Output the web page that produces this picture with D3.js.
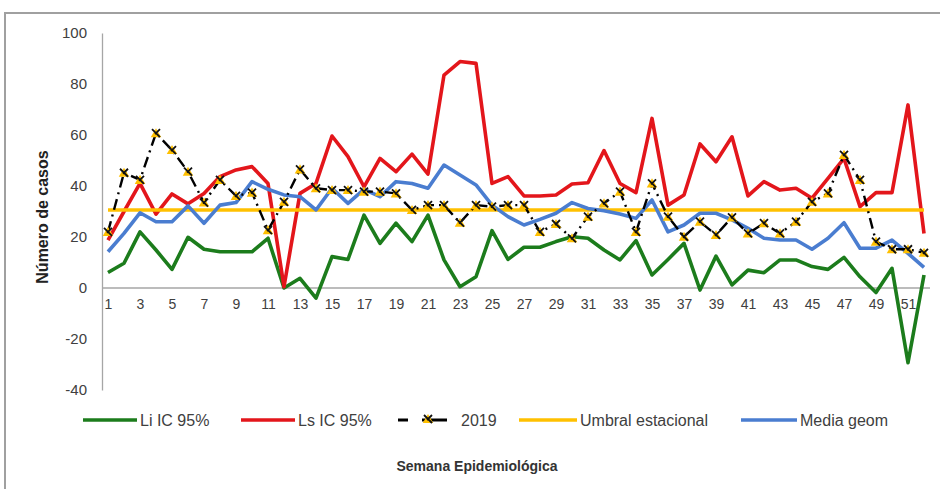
<!DOCTYPE html>
<html>
<head>
<meta charset="utf-8">
<script src="https://cdnjs.cloudflare.com/ajax/libs/d3/7.8.5/d3.min.js"></script>
<style>
  html, body { margin: 0; padding: 0; background: #fff; }
  svg { display: block; font-family: "Liberation Sans", Arial, sans-serif; }
</style>
</head>
<body>
<svg id="chart" width="940" height="489"></svg>
<script>
// Epidemiological weeks 1..52
const weeks = d3.range(1, 53);

// Lower limit of the 95% confidence interval
const liIC = [6.1, 9.7, 22, 14.9, 7.3, 19.9, 15.2, 14.2, 14.2, 14.2, 19.5, 0, 3.8,
  -4, 12.3, 11.2, 28.6, 17.5, 25.4, 18.2, 28.6, 11, 0.5, 4.4, 22.5, 11.2,
  16, 16, 18.2, 20.1, 19.5, 14.9, 11, 18.6, 5.1, 11.2, 17.5, -0.8,
  12.5, 1.2, 7, 6, 11, 11, 8.4, 7.3, 12, 4.4, -1.8, 7.7, -29.3, 5.1];

// Upper limit of the 95% confidence interval
const lsIC = [18.8, 30, 41, 29, 36.9, 33, 37.1, 43.7, 46.3, 47.6, 41, 0.5, 37.1,
  41, 59.6, 51.5, 39.7, 50.8, 45.6, 52.5, 44.7, 83.5, 88.8, 88.1, 41, 43.7,
  36.1, 36.1, 36.5, 40.8, 41.3, 53.9, 41, 37.4, 66.5, 32.5, 36.5, 56.5,
  49.5, 59.3, 36.1, 41.7, 38.4, 39.1, 35.2, 43, 50.8, 31.9, 37.4, 37.4, 71.8, 21.4];

// Cases observed in 2019
const cases2019 = [22, 45.2, 42.4, 60.7, 54.1, 45.6, 33.5, 42.4, 36.1, 37.4, 22.7, 33.8, 46.5,
  39.1, 38.4, 38.4, 37.8, 37.8, 37.1, 30.6, 32.5, 32.5, 25.6, 32.5, 31.9, 32.5,
  32.5, 22, 25.1, 19.5, 28, 33.2, 37.8, 22, 41, 28, 20.1, 26,
  20.8, 27.7, 21.4, 25.4, 21.4, 26, 33.8, 37.1, 52.2, 42.4, 18.2, 15.2, 15.2, 13.8];

// Seasonal threshold (constant)
const umbral = 30.6;

// Geometric mean
const mediaGeom = [14.2, 21.4, 29.5, 26, 26, 32.2, 25.4, 32.5, 33.5, 41.7, 38.7, 36.5, 35.8,
  30.6, 39.1, 33.2, 38.7, 35.8, 41.7, 41, 39.1, 48.2, 44.3, 40.4,
  32.5, 28, 24.7, 26.9, 29.3, 33.5, 31.2, 30.3, 29,
  27.3, 34.5, 22, 24.7, 29.3, 29.3, 26.7,
  23.4, 19.5, 18.8, 18.8, 15.2, 19.5, 25.6, 15.6, 15.6, 18.8, 13.6, 8.1];

const yTicks = [-40, -20, 0, 20, 40, 60, 80, 100];
const xTickWeeks = weeks.filter(w => w % 2 === 1);

const legendItems = [
  { label: "Li IC 95%", color: "#1c7c1c", type: "line" },
  { label: "Ls IC 95%", color: "#e3161b", type: "line" },
  { label: "2019", color: "#000", type: "dash" },
  { label: "Umbral estacional", color: "#ffc000", type: "line" },
  { label: "Media geom", color: "#4a7dd0", type: "line" }
];

const svg = d3.select("#chart");

// outer frame
svg.append("rect")
  .attr("x", 5).attr("y", 13).attr("width", 960).attr("height", 500)
  .attr("fill", "none").attr("stroke", "#a0a0a0").attr("stroke-width", 2);

const x = d3.scaleLinear().domain([1, 52]).range([108, 924]);
const y = d3.scaleLinear().domain([-40, 100]).range([390, 33]);

const plainInt = d => String(d); // hyphen-minus for negatives

// y axis: line and labels only
const yAxis = svg.append("g")
  .attr("transform", "translate(102,0)")
  .call(d3.axisLeft(y).tickValues(yTicks).tickSize(0).tickPadding(15).tickFormat(plainInt));
yAxis.select(".domain").attr("stroke", "#a6a6a6").attr("stroke-width", 1.3);
yAxis.selectAll("text").attr("fill", "#404040").style("font-size", "15px");

// x axis drawn at zero
const xAxis = svg.append("g")
  .attr("transform", `translate(0,${y(0)})`)
  .call(d3.axisBottom(x).tickValues(xTickWeeks).tickSize(0).tickPadding(11).tickFormat(plainInt));
xAxis.select(".domain").attr("stroke", "#a6a6a6").attr("stroke-width", 1.3)
  .attr("d", `M102,0H930`);
xAxis.selectAll("text").attr("fill", "#404040").style("font-size", "14px");

// axis titles
svg.append("text")
  .attr("transform", "translate(48,217) rotate(-90)")
  .attr("text-anchor", "middle")
  .attr("fill", "#222")
  .style("font-size", "16px").style("font-weight", "bold")
  .text("Número de casos");

svg.append("text")
  .attr("x", 477).attr("y", 471)
  .attr("text-anchor", "middle")
  .attr("fill", "#333")
  .style("font-size", "14px").style("font-weight", "bold")
  .text("Semana Epidemiológica");

const line = d3.line().x((d, i) => x(weeks[i])).y(d => y(d));

const plot = svg.append("g").attr("fill", "none").attr("stroke-linejoin", "round");

plot.append("path").datum(liIC).attr("d", line)
  .attr("stroke", legendItems[0].color).attr("stroke-width", 3.6);
plot.append("path").datum(lsIC).attr("d", line)
  .attr("stroke", legendItems[1].color).attr("stroke-width", 3.6);

// threshold line
plot.append("path").datum(weeks.map(() => umbral)).attr("d", line)
  .attr("stroke", legendItems[3].color).attr("stroke-width", 3.6);

plot.append("path").datum(mediaGeom).attr("d", line)
  .attr("stroke", legendItems[4].color).attr("stroke-width", 3.6);

// 2019 series: dash-dot line with markers
plot.append("path").datum(cases2019).attr("d", line)
  .attr("stroke", "#000").attr("stroke-width", 2.4)
  .attr("stroke-dasharray", "11,5,2,5");

const tri = d3.symbol().type(d3.symbolTriangle).size(48);
function marker(g, cx, cy) {
  const m = g.append("g").attr("transform", `translate(${cx},${cy})`);
  m.append("path").attr("d", tri()).attr("fill", "#ffc000").attr("transform", "translate(0,1)");
  m.append("path").attr("d", "M-4,-4L4,4M4,-4L-1,1")
    .attr("stroke", "#111").attr("stroke-width", 1.8).attr("fill", "none");
}
const markers = svg.append("g");
cases2019.forEach((v, i) => marker(markers, x(weeks[i]), y(v)));

// legend
const legY = 420;
const legPos = [
  { x0: 83, x1: 137, tx: 140 },
  { x0: 241, x1: 295, tx: 298 },
  { x0: 398, x1: 447, tx: 461 },
  { x0: 519, x1: 577, tx: 580 },
  { x0: 741, x1: 797, tx: 800 }
];
const leg = svg.append("g");
legendItems.forEach((it, i) => {
  const p = legPos[i];
  if (it.type === "line") {
    leg.append("line").attr("x1", p.x0).attr("x2", p.x1).attr("y1", legY).attr("y2", legY)
      .attr("stroke", it.color).attr("stroke-width", 3.6);
  } else {
    leg.append("line").attr("x1", p.x0).attr("x2", p.x0 + 10).attr("y1", legY).attr("y2", legY)
      .attr("stroke", "#000").attr("stroke-width", 3);
    leg.append("line").attr("x1", p.x0 + 24).attr("x2", p.x1).attr("y1", legY).attr("y2", legY)
      .attr("stroke", "#000").attr("stroke-width", 3);
    marker(leg, p.x0 + 30, legY - 1);
  }
  leg.append("text").attr("x", p.tx).attr("y", legY + 5.5)
    .attr("fill", "#404040").style("font-size", "16px")
    .text(it.label);
});
</script>
</body>
</html>
